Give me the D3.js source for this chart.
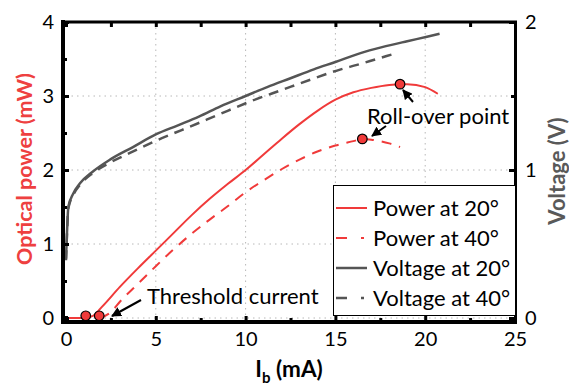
<!DOCTYPE html>
<html>
<head>
<meta charset="utf-8">
<script src="https://cdn.jsdelivr.net/npm/d3@7"></script>
<style>
  body { margin: 0; background: #fff; }
  svg { font-family: Lato, "Open Sans", sans-serif; }
</style>
</head>
<body>
<div class="container"></div>
<script>
const WIDTH = 569;
const HEIGHT = 392;

// current (mA) and optical power (mW)
var power20I = [0, 0.5, 1, 1.5, 2, 3, 4, 5, 6, 7, 8, 9, 10, 11, 12, 13, 14, 15, 16, 17, 18, 18.6, 19, 20, 20.7];
var power20P = [0, 0, 0, 0.03, 0.15, 0.42, 0.67, 0.91, 1.15, 1.39, 1.61, 1.81, 2.0, 2.21, 2.42, 2.62, 2.8, 2.95, 3.05, 3.11, 3.15, 3.16, 3.16, 3.12, 3.03];
var power40I = [1.9, 2.5, 3, 4, 5, 6, 7, 8, 9, 10, 11, 12, 13, 14, 15, 16, 16.5, 17, 18, 18.6];
var power40P = [0, 0.08, 0.22, 0.46, 0.7, 0.93, 1.14, 1.33, 1.51, 1.7, 1.86, 2.01, 2.14, 2.25, 2.33, 2.39, 2.42, 2.41, 2.36, 2.31];

// current (mA) and voltage (V)
var volt20I = [0, 0.05, 0.13, 0.4, 0.78, 1.5, 2.45, 3.73, 5, 6.2, 7.4, 8.6, 10, 11.2, 12.5, 13.8, 15, 16.4, 17.6, 19, 20.1, 20.8];
var volt20V = [0.4, 0.56, 0.75, 0.84, 0.91, 0.99, 1.07, 1.155, 1.24, 1.3, 1.36, 1.43, 1.5, 1.56, 1.62, 1.68, 1.73, 1.79, 1.83, 1.87, 1.90, 1.92];
var volt40I = [0, 0.05, 0.13, 0.4, 0.78, 1.5, 2.45, 3.56, 5.05, 6.44, 7.83, 9, 10.4, 12, 13.6, 15.3, 16.2, 17.3, 18.4];
var volt40V = [0.39, 0.55, 0.74, 0.83, 0.9, 0.98, 1.05, 1.115, 1.2, 1.27, 1.34, 1.4, 1.47, 1.54, 1.61, 1.68, 1.71, 1.75, 1.79];

var thresholdI = [1.1, 1.85];
var thresholdP = [0.03, 0.03];
var rollI = [18.6, 16.5];
var rollP = [3.16, 2.42];

var xTicks = [0, 5, 10, 15, 20, 25];
var xMinor = [2.5, 7.5, 12.5, 17.5, 22.5];
var yTicks = [0, 1, 2, 3, 4];
var yMinor = [0.5, 1.5, 2.5, 3.5];
var vTicks = [0, 1, 2];
var vMinor = [0.5, 1.5];

var legendNames = ["Power at 20°", "Power at 40°", "Voltage at 20°", "Voltage at 40°"];

const RED = "#f03a3a";
const GRAY = "#555555";

var x = d3.scaleLinear().domain([0, 25]).range([66, 515]);
var y = d3.scaleLinear().domain([0, 4]).range([318, 22]);
var yV = d3.scaleLinear().domain([0, 2]).range([318, 22]);

var svg = d3.select(".container").append("svg")
    .attr("width", WIDTH)
    .attr("height", HEIGHT);

var defs = svg.append("defs");
defs.append("marker")
    .attr("id", "arrow")
    .attr("viewBox", "0 0 10 10")
    .attr("refX", 9).attr("refY", 5)
    .attr("markerWidth", 5).attr("markerHeight", 5)
    .attr("markerUnits", "strokeWidth")
    .attr("orient", "auto")
    .append("path")
    .attr("d", "M0,0L10,5L0,10z")
    .attr("fill", "#000");

// grid
var grid = svg.append("g").attr("stroke", "#b8b8b8").attr("stroke-width", 1).attr("stroke-dasharray", "1.5,4");
grid.selectAll(".gx").data([5, 10, 15, 20]).enter().append("line")
    .attr("x1", d => x(d)).attr("x2", d => x(d))
    .attr("y1", y(4)).attr("y2", y(0));
grid.selectAll(".gy").data([0, 1, 2, 3]).enter().append("line")
    .attr("x1", x(0)).attr("x2", x(25))
    .attr("y1", d => y(d)).attr("y2", d => y(d));

// curves
var line = function(xs, ys, sy) {
    return d3.line().curve(d3.curveMonotoneX)
        .x((d, i) => x(xs[i])).y((d, i) => sy(ys[i]))(xs);
};
svg.append("path").attr("d", line(volt40I, volt40V, yV))
    .attr("fill", "none").attr("stroke", GRAY).attr("stroke-width", 2.5).attr("stroke-dasharray", "10,7");
svg.append("path").attr("d", line(volt20I, volt20V, yV))
    .attr("fill", "none").attr("stroke", GRAY).attr("stroke-width", 2.5);
svg.append("path").attr("d", line(power40I, power40P, y))
    .attr("fill", "none").attr("stroke", RED).attr("stroke-width", 2).attr("stroke-dasharray", "10,8");
svg.append("path").attr("d", line(power20I, power20P, y))
    .attr("fill", "none").attr("stroke", RED).attr("stroke-width", 2);

// markers
svg.selectAll(".dot").data(thresholdI.concat(rollI)).enter().append("circle")
    .attr("cx", d => x(d))
    .attr("cy", (d, i) => y(thresholdP.concat(rollP)[i]))
    .attr("r", 4.8)
    .attr("fill", RED).attr("stroke", "#000").attr("stroke-width", 1.2);

// axes frame
var frame = svg.append("g").attr("stroke", "#000");
frame.append("line").attr("x1", 63).attr("x2", 63).attr("y1", 20).attr("y2", 324).attr("stroke-width", 4);
frame.append("line").attr("x1", 61).attr("x2", 517).attr("y1", 322).attr("y2", 322).attr("stroke-width", 4);
frame.append("line").attr("x1", 61).attr("x2", 517).attr("y1", 22).attr("y2", 22).attr("stroke-width", 3);
frame.append("line").attr("x1", 515.5).attr("x2", 515.5).attr("y1", 21).attr("y2", 324).attr("stroke-width", 3);

var styleAxis = function(g, fs) {
    g.select(".domain").remove();
    g.selectAll(".tick line").attr("stroke", "#000").attr("stroke-width", 3);
    g.selectAll(".tick text").attr("font-size", fs).attr("fill", "#000").attr("font-family", "Lato, sans-serif");
};

svg.append("g").attr("transform", "translate(0,322)")
    .call(d3.axisBottom(x).tickValues(xTicks).tickSize(-6).tickPadding(10).tickFormat(d3.format("d")))
    .call(g => styleAxis(g, 20));
svg.append("g").attr("transform", "translate(0,322)")
    .call(d3.axisBottom(x).tickValues(xMinor).tickSize(-4).tickFormat(""))
    .call(g => styleAxis(g, 0));
svg.append("g").attr("transform", "translate(0,22)")
    .call(d3.axisTop(x).tickValues(xTicks.concat(xMinor)).tickSize(-5).tickFormat(""))
    .call(g => styleAxis(g, 0));

svg.append("g").attr("transform", "translate(63,0)")
    .call(d3.axisLeft(y).tickValues(yTicks).tickSize(-6).tickPadding(9).tickFormat(d3.format("d")))
    .call(g => styleAxis(g, 20));
svg.append("g").attr("transform", "translate(63,0)")
    .call(d3.axisLeft(y).tickValues(yMinor).tickSize(-4).tickFormat(""))
    .call(g => styleAxis(g, 0));

svg.append("g").attr("transform", "translate(515,0)")
    .call(d3.axisRight(yV).tickValues(vTicks).tickSize(-6).tickPadding(10).tickFormat(d3.format("d")))
    .call(g => styleAxis(g, 20));
svg.append("g").attr("transform", "translate(515,0)")
    .call(d3.axisRight(yV).tickValues(vMinor).tickSize(-4).tickFormat(""))
    .call(g => styleAxis(g, 0));

// axis titles
svg.append("text")
    .attr("transform", "translate(32,169) rotate(-90)")
    .attr("text-anchor", "middle")
    .attr("font-size", 21.5).attr("font-weight", "bold").attr("fill", "#ee4040")
    .text("Optical power (mW)");
svg.append("text")
    .attr("transform", "translate(565,171) rotate(-90)")
    .attr("text-anchor", "middle")
    .attr("font-size", 22).attr("font-weight", "bold").attr("fill", "#595959")
    .text("Voltage (V)");
var xl = svg.append("text")
    .attr("x", 289).attr("y", 377)
    .attr("text-anchor", "middle")
    .attr("font-size", 22.5).attr("font-weight", "bold").attr("fill", "#000");
xl.append("tspan").text("I");
xl.append("tspan").attr("font-size", 15).attr("dy", 6).text("b");
xl.append("tspan").attr("dy", -6).text(" (mA)");

// annotations
svg.append("text").attr("x", 147).attr("y", 304)
    .attr("font-size", 22).attr("fill", "#000").text("Threshold current");
svg.append("line").attr("x1", 141).attr("y1", 300).attr("x2", 112).attr("y2", 316)
    .attr("stroke", "#000").attr("stroke-width", 2).attr("marker-end", "url(#arrow)");

svg.append("text").attr("x", 367).attr("y", 124)
    .attr("font-size", 22).attr("fill", "#000").text("Roll-over point");
svg.append("line").attr("x1", 386).attr("y1", 126).attr("x2", 372).attr("y2", 136)
    .attr("stroke", "#000").attr("stroke-width", 2).attr("marker-end", "url(#arrow)");
svg.append("line").attr("x1", 413).attr("y1", 102).attr("x2", 403).attr("y2", 90)
    .attr("stroke", "#000").attr("stroke-width", 2).attr("marker-end", "url(#arrow)");

// legend
var lg = svg.append("g");
lg.append("rect").attr("x", 333.5).attr("y", 185.5).attr("width", 182).attr("height", 130)
    .attr("fill", "#fff").attr("stroke", "#000").attr("stroke-width", 1);
var legColors = [RED, RED, GRAY, GRAY];
var legDash = [null, "11,14,3,10", null, "11,14,3,10"];
var items = lg.selectAll(".item").data(legendNames).enter().append("g")
    .attr("transform", (d, i) => "translate(0," + (208 + i * 30) + ")");
items.append("line").attr("x1", 336).attr("x2", 367).attr("y1", 0).attr("y2", 0)
    .attr("stroke", (d, i) => legColors[i])
    .attr("stroke-width", (d, i) => i < 2 ? 2 : 2.5)
    .attr("stroke-dasharray", (d, i) => legDash[i]);
items.append("text").attr("x", 373).attr("dy", "0.35em")
    .attr("font-size", 22).attr("fill", "#000").text(d => d);
</script>
</body>
</html>
